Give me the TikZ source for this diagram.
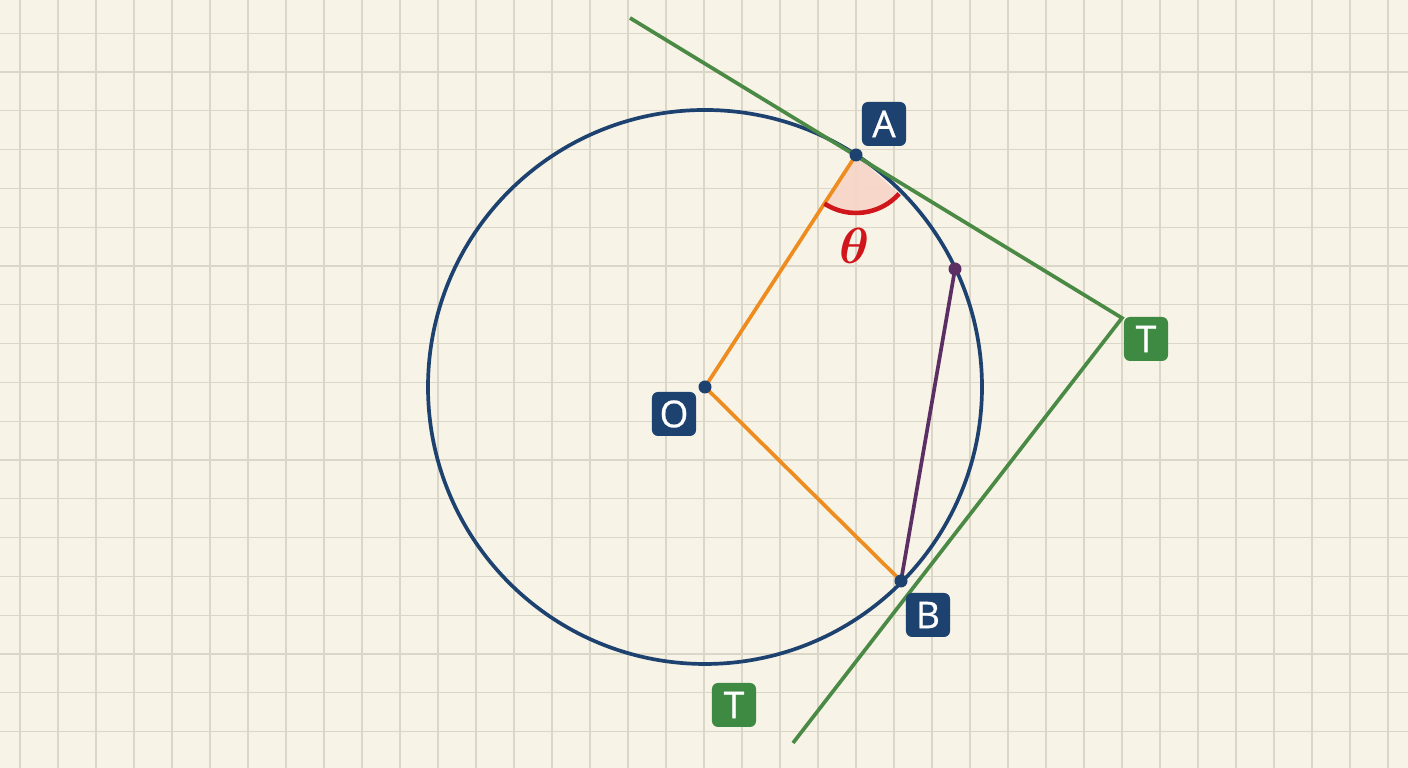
\documentclass[tikz,border=0pt]{standalone}
\usepackage{amsmath}
\usepackage{bm}
\usepackage{fontspec}
\newfontfamily\lblfont{Open Sans}[FakeBold=0.7]
\usepackage{tikz}

\definecolor{paper}{HTML}{F7F3E6}
\definecolor{gridline}{HTML}{DAD6C8}
\definecolor{navy}{HTML}{1D426F}
\definecolor{tangreen}{HTML}{4A8A45}
\definecolor{boxgreen}{HTML}{3F8A43}
\definecolor{radorange}{HTML}{EE8C1F}
\definecolor{chordpurple}{HTML}{5B2F63}
\definecolor{angred}{HTML}{D0161B}
\definecolor{angfill}{HTML}{F8D5C8}

\begin{document}
\begin{tikzpicture}[x=0.01cm, y=0.01cm,
    lbl/.style={rounded corners=0.06cm, minimum size=0.44cm, inner sep=0pt, text=white, font=\lblfont\fontsize{10.5}{11}\selectfont},
    navylbl/.style={lbl, fill=navy},
    greenlbl/.style={lbl, fill=boxgreen},
    dot/.style={circle, fill=navy, inner sep=0pt, minimum size=0.13cm}]
    \useasboundingbox (0,0) rectangle (1408,768);
    \fill[paper] (0,0) rectangle (1408,768);
    \foreach \x in {0,...,36} % vertical grid
    \draw[gridline, line width=0.35pt] (20+38*\x,0) -- (20+38*\x,768);
    \foreach \y in {0,...,18} % horizontal grid
    \draw[gridline, line width=0.35pt] (0,734.7-38.8*\y) -- (1408,734.7-38.8*\y);

    \coordinate (o) at (705,381);
    \coordinate (a) at (856,613);
    \coordinate (b) at (901,187);
    \coordinate (p) at (955,499);
    \coordinate (t) at (1122,450);
    \coordinate (ta) at (630,750);
    \coordinate (tb) at (793,25);

    % angle at A
    \fill[angfill, opacity=0.9] (a) -- ++(-123:58) arc[start angle=-123, end angle=-42, radius=58] -- cycle;

    \draw[navy, line width=1.05pt] (o) circle[radius=277];
    \begin{scope}[line width=1.05pt]
        \draw[tangreen] (ta) -- (t) -- (tb);
        \draw[radorange] (a) -- (o) -- (b);
        \draw[chordpurple] (b) -- (p);
    \end{scope}
    \draw[angred, line width=1.3pt] (a) ++(-123:58) arc[start angle=-123, end angle=-42, radius=58];
    \node[angred, font=\fontsize{14}{15}\selectfont] (theta) at (855,522) {$\bm{\theta}$};

    \foreach \z in {o,a,b}
    \node[dot] at (\z) {};
    \node[dot, fill=chordpurple] at (p) {};

    \foreach \x/\y/\z/\s in {
        884/644/A/navylbl,
        674/354/O/navylbl,
        928/153/B/navylbl,
        1146/429/T/greenlbl}
    \node[\s] (lbl\z) at (\x,\y) {\z};
    \node[greenlbl] (lblTb) at (734,63) {T};
\end{tikzpicture}
\end{document}
